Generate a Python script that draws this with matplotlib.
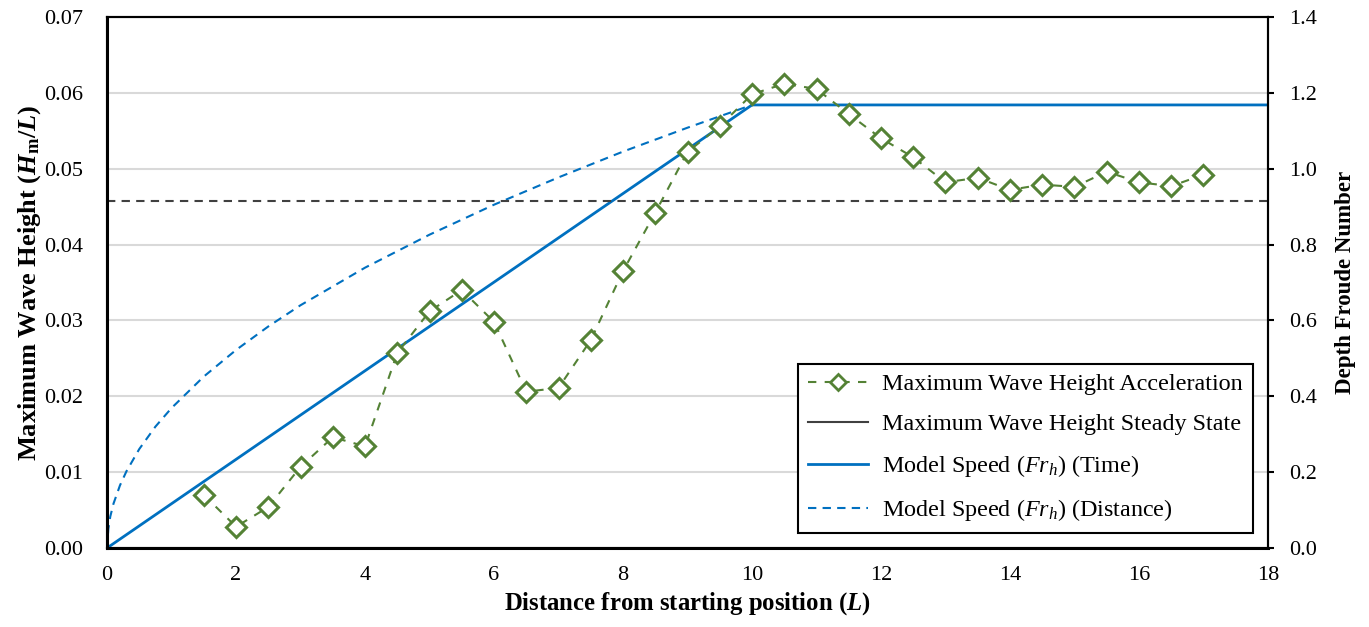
import matplotlib.pyplot as plt
from matplotlib.lines import Line2D

plt.rcParams['font.family'] = ['Liberation Serif', 'DejaVu Serif']
plt.rcParams['mathtext.fontset'] = 'custom'
plt.rcParams['mathtext.rm'] = 'Liberation Serif'
plt.rcParams['mathtext.it'] = 'Liberation Serif:italic'
plt.rcParams['mathtext.bf'] = 'Liberation Serif:bold'
plt.rcParams['mathtext.bfit'] = 'Liberation Serif:italic:bold'

# wave height measured during acceleration (H_m / L)
dist = [1.5, 2, 2.5, 3, 3.5, 4, 4.5, 5, 5.5, 6, 6.5, 7, 7.5, 8, 8.5, 9, 9.5,
        10, 10.5, 11, 11.5, 12, 12.5, 13, 13.5, 14, 14.5, 15, 15.5, 16, 16.5, 17]
wave_acc = [0.0070, 0.0028, 0.0054, 0.0107, 0.0146, 0.0134, 0.0257, 0.0312,
            0.0340, 0.0298, 0.0206, 0.0211, 0.0274, 0.0365, 0.0442, 0.0522,
            0.0556, 0.0598, 0.0612, 0.0605, 0.0572, 0.0540, 0.0515, 0.0482,
            0.0488, 0.0472, 0.0479, 0.0476, 0.0496, 0.0482, 0.0477, 0.0492]
steady_x = [0, 18]
steady_h = [0.0457, 0.0457]

# model speed (depth Froude number)
time_x = [0, 10, 18]
time_fr = [0, 1.168, 1.168]
dist_x = [0, 0.02, 0.05, 0.1, 0.2, 0.3, 0.5, 0.75, 1, 1.5, 2, 2.5, 3, 4, 5,
          6, 7, 8, 9, 10]
dist_fr = [0, 0.05, 0.083, 0.117, 0.165, 0.202, 0.261, 0.32, 0.369, 0.452,
           0.522, 0.584, 0.64, 0.739, 0.826, 0.905, 0.977, 1.045, 1.108, 1.168]

green = '#548235'
blue = '#0070C0'
grey = '#404040'

fig = plt.figure(figsize=(13.69, 6.27), dpi=100)
ax = fig.add_axes([0.0782, 0.126, 0.848, 0.847])
ax2 = ax.twinx()
ax.set_zorder(ax2.get_zorder() + 1)
ax.patch.set_visible(False)

ax2.plot(time_x, time_fr, color=blue, lw=2)
ax2.plot(dist_x, dist_fr, color=blue, lw=1.5, ls=(0, (4, 3)))

ax.plot(steady_x, steady_h, color=grey, lw=1.5, ls=(0, (4, 3)))
ax.plot(dist, wave_acc, color=green, lw=1.5, ls=(0, (4, 4)), marker='D',
        markersize=10, markeredgewidth=2.2, markerfacecolor='white',
        markeredgecolor=green)

ax.set_xlim(0, 18)
ax.set_ylim(0, 0.07)
ax2.set_ylim(0, 1.4)
ax.set_xticks(range(0, 19, 2))
ax.set_yticks([i * 0.01 for i in range(8)])
ax.set_yticklabels([f'{i * 0.01:.2f}' for i in range(8)])
ax2.set_yticks([i * 0.2 for i in range(8)])
ax2.set_yticklabels([f'{i * 0.2:.1f}' for i in range(8)])

ax2.grid(True, color='#d9d9d9', lw=1.5)
ax2.set_axisbelow(True)

for a in (ax, ax2):
    for s in a.spines.values():
        s.set_color('black')
        s.set_linewidth(1.5)
ax.spines['left'].set_linewidth(2.2)
ax.spines['bottom'].set_linewidth(2.2)

ax.tick_params(axis='x', length=0, labelsize=16, pad=13)
ax.tick_params(axis='y', length=0, labelsize=16, pad=17)
ax2.tick_params(axis='y', direction='out', length=4, width=1.5,
                labelsize=16, pad=11)

ax.set_xlabel(r'Distance from starting position ($\mathbfit{L}$)',
              fontsize=17.8, fontweight='bold', labelpad=4)
ax.set_ylabel(r'Maximum Wave Height ($\mathbfit{H}_{\mathbf{m}}$/$\mathbfit{L}$)',
              fontsize=19, fontweight='bold', labelpad=1)
ax2.set_ylabel('Depth Froude Number', fontsize=16.5, fontweight='bold',
               labelpad=13)

handles = [
    Line2D([], [], color=green, lw=1.5, ls=(0, (4, 4)), marker='D',
           markersize=8, markeredgewidth=2, markerfacecolor='white'),
    Line2D([], [], color=grey, lw=1.5),
    Line2D([], [], color=blue, lw=2),
    Line2D([], [], color=blue, lw=1.5, ls=(0, (4, 3))),
]
labels = ['Maximum Wave Height Acceleration',
          'Maximum Wave Height Steady State',
          r'Model Speed ($Fr_h$) (Time)',
          r'Model Speed ($Fr_h$) (Distance)']
leg = ax.legend(handles, labels, loc='lower right', bbox_to_anchor=(0.987, 0.028),
                borderaxespad=0, fontsize=17.4, frameon=True, fancybox=False,
                framealpha=1, edgecolor='black', handlelength=2.5,
                handletextpad=0.6, labelspacing=0.75, borderpad=0.4)
leg.get_frame().set_linewidth(1.5)

fig.savefig('out.png', dpi=100)
